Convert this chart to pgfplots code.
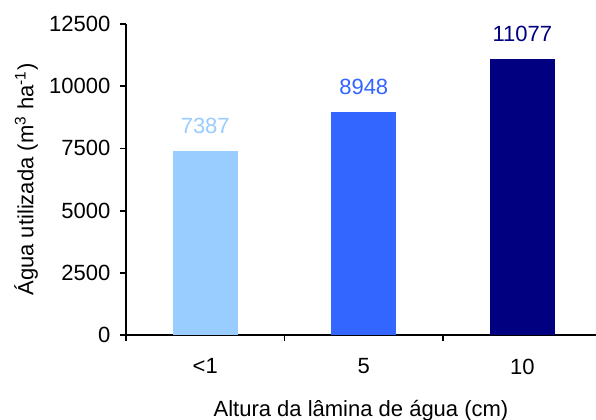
\documentclass[border=0pt]{standalone}
\usepackage{fontspec}
\setmainfont{Liberation Sans}
\usepackage{pgfplots}
\pgfplotsset{compat=1.18}
\definecolor{c1}{HTML}{99CCFF}
\definecolor{c2}{HTML}{3366FF}
\definecolor{c3}{HTML}{000080}
\begin{document}
\fontsize{11}{13}\selectfont
\begin{tikzpicture}
\begin{axis}[
  scale only axis,
  width=235pt, height=155.5pt,
  at={(0,0)}, anchor=south west,
  xmin=-0.5, xmax=2.465,
  ymin=0, ymax=12500,
  axis x line*=bottom, axis y line*=left,
  axis line style={line width=0.9pt, shorten >=0pt},
  separate axis lines,
  x axis line style={-}, y axis line style={-},
  xtick={0,1,2},
  xticklabels={<1,5,10},
  major x tick style={draw=none},
  minor xtick={-0.5,0.5,1.5},
  minor x tick style={line width=0.9pt, black},
  minor tick length=3pt,
  ytick={0,2500,5000,7500,10000,12500},
  y tick style={line width=0.9pt, black},
  major tick length=3pt,
  tick align=outside,
  /pgf/number format/assume math mode=true,
  /pgf/number format/1000 sep={},
  scaled y ticks=false,
  yticklabel style={xshift=-1pt},
  xticklabel style={yshift=-5pt},
  xlabel={Altura da lâmina de água (cm)},
  ylabel={Água utilizada (m\textsuperscript{3} ha\textsuperscript{-1})},
  xlabel style={yshift=-5.5pt},
  ylabel style={yshift=-2pt},
  ybar, bar width=32.5pt, bar shift=0pt,
  nodes near coords,
  nodes near coords style={anchor=south, yshift=5pt, font=\fontsize{11}{13}\selectfont},
  clip=false,
]
\addplot[fill=c1, draw=none, nodes near coords style={text=c1}] coordinates {(0,7387)};
\addplot[fill=c2, draw=none, nodes near coords style={text=c2}] coordinates {(1,8948)};
\addplot[fill=c3, draw=none, nodes near coords style={text=c3}] coordinates {(2,11077)};
\end{axis}
\pgfresetboundingbox
\path[use as bounding box] (-63pt,-42pt) rectangle (235pt,167.5pt);
\end{tikzpicture}
\end{document}
